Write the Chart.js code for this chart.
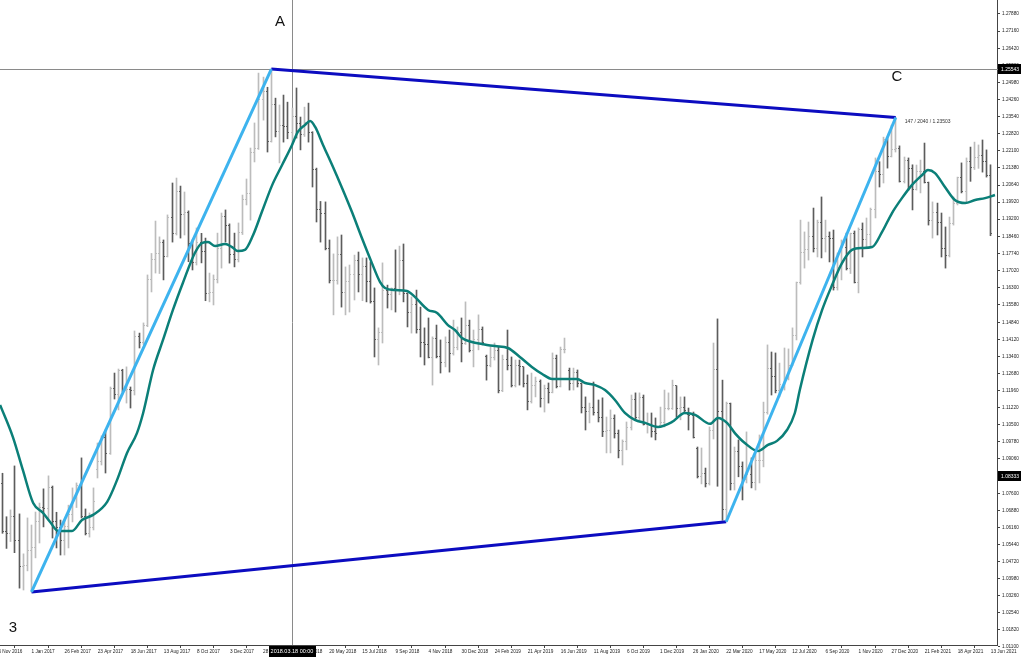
<!DOCTYPE html>
<html>
<head>
<meta charset="utf-8">
<script src="https://cdn.jsdelivr.net/npm/chart.js@4.4.1/dist/chart.umd.min.js"></script>
<style>
  html, body { margin: 0; padding: 0; background: #fff; }
  #wrap { width: 1022px; height: 658px; }
</style>
</head>
<body>
<div id="wrap"><canvas id="chart" width="1022" height="658"></canvas></div>
<script>
// Weekly bars, week 0 = week of 1 Jan 2017
const firstWeek = -7;

const opens = [
  1.0800,1.0600,1.0590,1.0660,1.0560,1.0450,1.0455,1.0520,1.0530,1.0640,
  1.0700,1.0695,1.0785,1.0640,1.0615,1.0560,1.0620,1.0670,1.0740,1.0795,
  1.0660,1.0590,1.0615,1.0860,1.0895,1.0995,1.0930,1.1205,1.1180,1.1280,
  1.1195,1.1200,1.1195,1.1425,1.1400,1.1470,1.1665,1.1750,1.1775,1.1820,
  1.1760,1.1925,1.1860,1.2035,1.1940,1.1950,1.1815,1.1735,1.1820,1.1785,
  1.1605,1.1610,1.1665,1.1795,1.1930,1.1895,1.1770,1.1750,1.1865,1.2005,
  1.2030,1.2200,1.2220,1.2426,1.2460,1.2250,1.2405,1.2290,1.2315,1.2310,
  1.2285,1.2355,1.2325,1.2280,1.2330,1.2285,1.2130,1.1960,1.1945,1.1795,
  1.1660,1.1660,1.1770,1.1610,1.1655,1.1685,1.1745,1.1685,1.1720,1.1655,
  1.1570,1.1410,1.1440,1.1620,1.1600,1.1625,1.1620,1.1745,1.1605,1.1525,
  1.1560,1.1455,1.1400,1.1390,1.1335,1.1415,1.1340,1.1315,1.1400,1.1350,
  1.1375,1.1440,1.1395,1.1470,1.1365,1.1410,1.1455,1.1340,1.1300,1.1335,
  1.1365,1.1195,1.1325,1.1300,1.1215,1.1300,1.1295,1.1225,1.1150,1.1215,
  1.1235,1.1160,1.1205,1.1185,1.1330,1.1210,1.1370,1.1280,1.1225,1.1270,
  1.1225,1.1125,1.1105,1.1125,1.1100,1.1080,1.1020,1.1025,1.1075,1.1015,
  1.0940,1.0980,1.1040,1.1155,1.1080,1.1165,1.1050,1.1050,1.1020,1.1045,
  1.1060,1.1120,1.1120,1.1215,1.1120,1.1125,1.1095,1.1090,1.0950,1.0830,
  1.0845,1.0800,1.1025,1.1285,1.1105,1.0690,1.1140,1.0800,1.0935,1.0875,
  1.0820,1.0840,1.0805,1.0900,1.0900,1.1100,1.1290,1.1255,1.1195,1.1220,
  1.1245,1.1300,1.1428,1.1650,1.1778,1.1790,1.1845,1.1795,1.1905,1.1840,
  1.1845,1.1840,1.1630,1.1715,1.1800,1.1710,1.1860,1.1650,1.1875,1.1835,
  1.1855,1.1960,1.2120,1.2110,1.2255,1.2185,1.2215,1.2220,1.2080,1.2170,
  1.2135,1.2045,1.2120,1.2120,1.2075,1.1915,1.1950,1.1905,1.1795,1.1765,
  1.1900,1.1985,1.2095,1.2035,1.2165,1.2140,1.2180,1.2190,1.2165,1.2105
];
const highs = [
  1.0845,1.0661,1.0690,1.0876,1.0673,1.0504,1.0656,1.0626,1.0681,1.0719,
  1.0779,1.0834,1.0791,1.0680,1.0647,1.0647,1.0710,1.0783,1.0804,1.0910,
  1.0694,1.0677,1.0783,1.0973,1.1003,1.1028,1.1210,1.1269,1.1286,1.1285,
  1.1295,1.1210,1.1447,1.1438,1.1481,1.1684,1.1775,1.1912,1.1845,1.1832,
  1.1938,1.2073,1.2094,1.2060,1.2035,1.1955,1.1832,1.1883,1.1860,1.1840,
  1.1692,1.1684,1.1861,1.1946,1.1959,1.1900,1.1861,1.1904,1.2022,1.2090,
  1.2221,1.2327,1.2538,1.2521,1.2478,1.2555,1.2432,1.2403,1.2445,1.2415,
  1.2390,1.2475,1.2352,1.2394,1.2411,1.2290,1.2136,1.1995,1.1993,1.1832,
  1.1773,1.1845,1.1853,1.1718,1.1726,1.1768,1.1781,1.1756,1.1756,1.1739,
  1.1629,1.1460,1.1735,1.1641,1.1629,1.1790,1.1806,1.1815,1.1608,1.1591,
  1.1620,1.1548,1.1460,1.1502,1.1422,1.1472,1.1409,1.1422,1.1451,1.1493,
  1.1464,1.1502,1.1570,1.1493,1.1451,1.1515,1.1464,1.1345,1.1379,1.1396,
  1.1379,1.1345,1.1451,1.1337,1.1324,1.1324,1.1295,1.1261,1.1269,1.1252,
  1.1240,1.1218,1.1227,1.1354,1.1345,1.1379,1.1417,1.1290,1.1290,1.1282,
  1.1227,1.1168,1.1142,1.1231,1.1155,1.1164,1.1083,1.1113,1.1092,1.1028,
  1.0986,1.1062,1.1176,1.1185,1.1185,1.1176,1.1100,1.1100,1.1079,1.1125,
  1.1197,1.1185,1.1239,1.1215,1.1168,1.1168,1.1121,1.1104,1.0956,1.0952,
  1.0867,1.1041,1.1396,1.1498,1.1239,1.1146,1.1142,1.0956,1.0986,1.0893,
  1.1020,1.0910,1.0931,1.1007,1.1146,1.1388,1.1358,1.1354,1.1311,1.1375,
  1.1371,1.1460,1.1654,1.1916,1.1866,1.1908,1.1967,1.1916,1.2014,1.1916,
  1.1866,1.1874,1.1777,1.1832,1.1861,1.1861,1.1870,1.1883,1.1904,1.1925,
  1.1967,1.2179,1.2163,1.2267,1.2260,1.2318,1.2350,1.2230,1.2183,1.2179,
  1.2150,1.2149,1.2170,1.2242,1.2077,1.1993,1.1988,1.1946,1.1887,1.1929,
  1.2014,1.2098,1.2158,1.2179,1.2225,1.2246,1.2234,1.2255,1.2213,1.2150
];
const lows = [
  1.0591,1.0527,1.0556,1.0509,1.0359,1.0351,1.0432,1.0343,1.0487,1.0550,
  1.0618,1.0647,1.0571,1.0529,1.0499,1.0499,1.0529,1.0639,1.0700,1.0656,
  1.0584,1.0575,1.0605,1.0825,1.0880,1.0846,1.0925,1.1159,1.1113,1.1189,
  1.1142,1.1121,1.1176,1.1375,1.1390,1.1465,1.1612,1.1692,1.1690,1.1663,
  1.1760,1.1823,1.1853,1.1840,1.1853,1.1740,1.1705,1.1726,1.1735,1.1575,
  1.1570,1.1557,1.1650,1.1713,1.1823,1.1734,1.1718,1.1739,1.1855,1.1980,
  1.1916,1.2162,1.2215,1.2339,1.2204,1.2246,1.2268,1.2158,1.2246,1.2260,
  1.2233,1.2263,1.2213,1.2270,1.2246,1.2056,1.1908,1.1823,1.1790,1.1650,
  1.1515,1.1645,1.1548,1.1515,1.1527,1.1578,1.1612,1.1575,1.1570,1.1565,
  1.1337,1.1303,1.1396,1.1544,1.1536,1.1527,1.1600,1.1570,1.1464,1.1438,
  1.1438,1.1337,1.1303,1.1333,1.1218,1.1333,1.1269,1.1295,1.1273,1.1345,
  1.1367,1.1316,1.1390,1.1358,1.1295,1.1367,1.1388,1.1239,1.1295,1.1324,
  1.1185,1.1190,1.1282,1.1210,1.1210,1.1218,1.1210,1.1113,1.1142,1.1168,
  1.1125,1.1104,1.1142,1.1185,1.1206,1.1210,1.1354,1.1197,1.1197,1.1210,
  1.1100,1.1028,1.1058,1.1091,1.1062,1.1000,1.0931,1.0931,1.0994,1.0910,
  1.0880,1.0944,1.1028,1.1071,1.1071,1.1049,1.1015,1.0998,1.0986,1.1041,
  1.1041,1.1113,1.1115,1.1083,1.1071,1.1104,1.1028,1.0994,1.0825,1.0800,
  1.0787,1.0795,1.0990,1.0790,1.0646,1.0640,1.0774,1.0774,1.0830,1.0732,
  1.0804,1.0783,1.0774,1.0804,1.0872,1.1095,1.1176,1.1185,1.1168,1.1197,
  1.1240,1.1300,1.1409,1.1645,1.1713,1.1747,1.1781,1.1760,1.1756,1.1781,
  1.1739,1.1620,1.1620,1.1663,1.1705,1.1690,1.1650,1.1608,1.1760,1.1798,
  1.1802,1.1925,1.2056,1.2073,1.2136,1.2183,1.2204,1.2077,1.2073,1.2043,
  1.1959,1.2043,1.2031,1.2073,1.1895,1.1840,1.1853,1.1760,1.1713,1.1760,
  1.1895,1.1980,1.2031,1.1990,1.2080,1.2130,1.2135,1.2119,1.2098,1.1850
];
const closes = [
  1.0600,1.0590,1.0660,1.0560,1.0450,1.0455,1.0520,1.0530,1.0640,1.0700,
  1.0695,1.0785,1.0640,1.0615,1.0560,1.0620,1.0670,1.0740,1.0795,1.0660,
  1.0590,1.0615,1.0725,1.0895,1.0995,1.0930,1.1205,1.1180,1.1280,1.1195,
  1.1200,1.1195,1.1425,1.1400,1.1470,1.1665,1.1750,1.1775,1.1820,1.1760,
  1.1925,1.1860,1.2035,1.1940,1.1950,1.1815,1.1735,1.1820,1.1785,1.1605,
  1.1610,1.1665,1.1795,1.1930,1.1895,1.1770,1.1750,1.1865,1.2005,1.2030,
  1.2200,1.2220,1.2426,1.2460,1.2250,1.2405,1.2290,1.2315,1.2310,1.2285,
  1.2355,1.2325,1.2280,1.2330,1.2285,1.2130,1.1960,1.1945,1.1795,1.1660,
  1.1660,1.1770,1.1610,1.1655,1.1685,1.1745,1.1685,1.1720,1.1655,1.1570,
  1.1410,1.1440,1.1620,1.1600,1.1625,1.1620,1.1745,1.1605,1.1525,1.1560,
  1.1455,1.1400,1.1390,1.1335,1.1415,1.1340,1.1315,1.1400,1.1350,1.1375,
  1.1440,1.1395,1.1470,1.1365,1.1410,1.1455,1.1400,1.1300,1.1335,1.1365,
  1.1195,1.1325,1.1300,1.1215,1.1300,1.1295,1.1225,1.1150,1.1215,1.1235,
  1.1160,1.1205,1.1185,1.1330,1.1210,1.1370,1.1370,1.1225,1.1270,1.1225,
  1.1125,1.1105,1.1125,1.1100,1.1080,1.1020,1.1025,1.1075,1.1015,1.0940,
  1.0980,1.1040,1.1155,1.1080,1.1165,1.1050,1.1050,1.1020,1.1015,1.1060,
  1.1120,1.1120,1.1215,1.1120,1.1125,1.1110,1.1090,1.0995,1.0830,1.0845,
  1.0800,1.1025,1.1285,1.1105,1.0690,1.1140,1.0800,1.0935,1.0875,1.0820,
  1.0840,1.0805,1.0900,1.0900,1.1100,1.1290,1.1255,1.1195,1.1220,1.1245,
  1.1300,1.1428,1.1650,1.1778,1.1790,1.1845,1.1795,1.1905,1.1840,1.1845,
  1.1840,1.1630,1.1715,1.1800,1.1710,1.1860,1.1650,1.1875,1.1835,1.1855,
  1.1960,1.2120,1.2110,1.2255,1.2185,1.2215,1.2220,1.2080,1.2170,1.2135,
  1.2045,1.2120,1.2120,1.2075,1.1915,1.1950,1.1905,1.1795,1.1765,1.1900,
  1.1985,1.2095,1.2035,1.2165,1.2140,1.2180,1.2190,1.2165,1.2105,1.1860
];

// smoothed moving average (week, price)
const maWeeks = [
  -7.6,-4.5,-2.1,0.4,2.8,4.5,6.4,9.8,12.2,14.9,18.3,20.7,23.1,25.5,27.0,29.4,31.8,34.2,36.6,
  39.5,41.2,42.7,44.4,46.8,48.5,49.9,51.6,53.6,55.7,58.2,60.6,63.0,64.4,66.1,67.4,68.6,70.5,
  72.7,75.1,77.5,79.9,82.3,84.3,85.5,87.9,90.8,92.7,95.9,98.1,100.7,102.4,104.1,106.5,109.0,
  112.1,115.2,118.1,121.0,123.5,125.9,128.3,131.9,133.9,136.3,138.7,141.1,143.5,145.9,148.4,
  151.5,154.9,158.0,160.5,164.1,166.0,168.2,170.1,172.5,175.7,178.1,180.3,182.7,184.6,185.8,
  188.9,191.2,193.6,196.0,198.4,200.8,203.3,205.7,208.1,210.5,212.9,215.4,216.8,218.5,220.9,
  223.3,225.8,228.2,230.6,233.0
];
const maValues = [
  1.1134,1.0998,1.0859,1.0719,1.0677,1.0639,1.0601,1.0601,1.0647,1.0669,1.0724,1.0817,1.0931,1.1015,1.1100,1.1282,1.1409,1.1536,1.1650,
  1.1777,1.1819,1.1823,1.1806,1.1815,1.1802,1.1785,1.1790,1.1853,1.1950,1.2064,1.2149,1.2234,1.2289,1.2318,1.2335,1.2310,1.2234,
  1.2149,1.2052,1.1950,1.1840,1.1735,1.1654,1.1629,1.1620,1.1616,1.1591,1.1536,1.1523,1.1472,1.1451,1.1417,1.1400,1.1392,
  1.1383,1.1375,1.1337,1.1295,1.1265,1.1244,1.1244,1.1244,1.1227,1.1218,1.1197,1.1155,1.1100,1.1071,1.1058,
  1.1041,1.1062,1.1100,1.1092,1.1054,1.1079,1.1058,1.1015,1.0973,1.0939,1.0965,1.0982,1.1028,1.1100,1.1197,
  1.1409,1.1536,1.1641,1.1734,1.1790,1.1798,1.1802,1.1866,1.1946,1.2009,1.2064,1.2107,1.2128,1.2115,1.2056,
  1.2001,1.1988,1.2001,1.2009,1.2022
];

// trend line pivots: Jan 2017 low, Feb 2018 high, Mar 2020 low, Jan 2021 high
const pivotWeeks = [0, 58, 168, 209];
const pivotPrices = [1.0343, 1.2555, 1.0640, 1.2350];

const xTickWeeks = [-8,0,8,16,24,32,40,48,56,64,72,80,88,96,104,112,120,128,136,144,152,160,168,176,184,192,200,208,216,224,232];
const xTickLabels = [
  '6 Nov 2016','1 Jan 2017','26 Feb 2017','23 Apr 2017','18 Jun 2017','13 Aug 2017','8 Oct 2017',
  '3 Dec 2017','28 Jan 2018','25 Mar 2018','20 May 2018','15 Jul 2018','9 Sep 2018','4 Nov 2018',
  '30 Dec 2018','24 Feb 2019','21 Apr 2019','16 Jun 2019','11 Aug 2019','6 Oct 2019','1 Dec 2019',
  '26 Jan 2020','22 Mar 2020','17 May 2020','12 Jul 2020','6 Sep 2020','1 Nov 2020','27 Dec 2020',
  '21 Feb 2021','18 Apr 2021','13 Jun 2021'
];
const yTickValues = [
  1.27880,1.27160,1.26420,1.25700,1.24980,1.24260,1.23540,1.22820,1.22100,1.21380,
  1.20640,1.19920,1.19200,1.18460,1.17740,1.17020,1.16300,1.15580,1.14840,1.14120,
  1.13400,1.12680,1.11960,1.11220,1.10500,1.09780,1.09060,1.08340,1.07600,1.06880,
  1.06160,1.05440,1.04720,1.03980,1.03260,1.02540,1.01820,1.01100
];

const crossWeek = 63;
const crossPrice = 1.25543;
const crossTimeText = '2018.03.18 00:00';
const bidPrice = 1.08333;
const letters = [
  { text: 'A', week: 60.1, price: 1.2754 },
  { text: 'C', week: 209.3, price: 1.2521 },
  { text: '3', week: -4.5, price: 1.0191 }
];
const lineInfo = '147 / 2040 / 1.23503';

const UP = '#bcbcbc', DOWN = '#5c5c5c';
const smallFont = { family: 'Liberation Sans', size: 4.7 };

const weekOf = i => firstWeek + i;
const barColors = opens.map((o, i) => closes[i] >= o ? UP : DOWN);
const seg = (a, b) => [{ x: pivotWeeks[a], y: pivotPrices[a] }, { x: pivotWeeks[b], y: pivotPrices[b] }];

// snap the 1px bars and their open/close ticks to whole pixels so they stay crisp
const crisp = {
  id: 'crisp',
  beforeDatasetsDraw(chart) {
    [5, 6, 7].forEach(di => {
      chart.getDatasetMeta(di).data.forEach(el => {
        el.x = Math.floor(el.x) + 0.5;
        if (di !== 7) el.y = Math.floor(el.y) + 0.5;
      });
    });
  }
};

const overlay = {
  id: 'overlay',
  beforeDatasetsDraw(chart) {
    const { ctx, chartArea: a, scales: { x, y } } = chart;
    const cx = Math.floor(x.getPixelForValue(crossWeek)) + 0.5;
    const cy = Math.floor(y.getPixelForValue(crossPrice)) + 0.5;
    ctx.save();
    ctx.strokeStyle = '#8a8a8a';
    ctx.lineWidth = 1;
    ctx.beginPath();
    ctx.moveTo(cx, a.top); ctx.lineTo(cx, a.bottom);
    ctx.moveTo(a.left, cy); ctx.lineTo(a.right + 3, cy);
    ctx.stroke();
    ctx.restore();
  },
  afterDraw(chart) {
    const { ctx, chartArea: a, scales: { x, y } } = chart;
    ctx.save();
    ctx.fillStyle = '#111';
    ctx.font = '15px "Liberation Sans", Arial, sans-serif';
    ctx.textAlign = 'center';
    ctx.textBaseline = 'middle';
    letters.forEach(l => ctx.fillText(l.text, x.getPixelForValue(l.week), y.getPixelForValue(l.price)));

    ctx.font = '5px "Liberation Sans", Arial, sans-serif';
    ctx.textAlign = 'left';
    ctx.fillStyle = '#333';
    ctx.fillText(lineInfo, x.getPixelForValue(pivotWeeks[3]) + 9, y.getPixelForValue(pivotPrices[3]) + 4);

    // crosshair time box
    const cx = x.getPixelForValue(crossWeek);
    ctx.font = '5.5px "Liberation Sans", Arial, sans-serif';
    const tw = ctx.measureText(crossTimeText).width + 4;
    ctx.fillStyle = '#000';
    ctx.fillRect(Math.round(cx - tw / 2), a.bottom + 1, Math.round(tw), 11);
    ctx.fillStyle = '#fff';
    ctx.textAlign = 'center';
    ctx.fillText(crossTimeText, cx, a.bottom + 6.5);

    // price boxes on the right axis
    ctx.font = '5px "Liberation Sans", Arial, sans-serif';
    [crossPrice, bidPrice].forEach(p => {
      const py = y.getPixelForValue(p);
      ctx.fillStyle = '#000';
      ctx.fillRect(a.right + 1, Math.round(py - 5), 23, 10);
      ctx.fillStyle = '#fff';
      ctx.textAlign = 'left';
      ctx.fillText(p.toFixed(5), a.right + 4, py + 0.5);
    });
    ctx.restore();
  }
};

new Chart(document.getElementById('chart'), {
  type: 'bar',
  data: {
    datasets: [
      { type: 'line', data: seg(0, 1), borderColor: '#3db3ee', borderWidth: 3, pointRadius: 0, order: 1 },
      { type: 'line', data: seg(2, 3), borderColor: '#3db3ee', borderWidth: 3, pointRadius: 0, order: 1 },
      { type: 'line', data: seg(1, 3), borderColor: '#0c0cc0', borderWidth: 3, pointRadius: 0, order: 1 },
      { type: 'line', data: seg(0, 2), borderColor: '#0c0cc0', borderWidth: 3, pointRadius: 0, order: 1 },
      {
        type: 'line',
        data: maWeeks.map((w, i) => ({ x: w, y: maValues[i] })),
        borderColor: '#0b7f78', borderWidth: 2.5, pointRadius: 0,
        cubicInterpolationMode: 'monotone', order: 2
      },
      {
        type: 'scatter',
        data: opens.map((o, i) => ({ x: weekOf(i), y: o })),
        pointStyle: 'dash', rotation: 180, radius: 1.5,
        borderColor: barColors, borderWidth: 1, order: 3
      },
      {
        type: 'scatter',
        data: closes.map((c, i) => ({ x: weekOf(i), y: c })),
        pointStyle: 'dash', rotation: 0, radius: 1.5,
        borderColor: barColors, borderWidth: 1, order: 3
      },
      {
        type: 'bar',
        data: lows.map((l, i) => ({ x: weekOf(i), y: [l, highs[i]] })),
        backgroundColor: barColors, borderWidth: 0, barThickness: 1, order: 4
      }
    ]
  },
  options: {
    responsive: false,
    animation: false,
    events: [],
    layout: { padding: 0, autoPadding: false },
    plugins: { legend: { display: false }, tooltip: { enabled: false } },
    scales: {
      x: {
        type: 'linear', min: -7.62, max: 233.49, offset: false,
        grid: { drawOnChartArea: false, drawTicks: true, tickLength: 3, color: '#444' },
        border: { display: true, color: '#444' },
        ticks: {
          align: 'start', padding: 1, maxRotation: 0, autoSkip: false,
          font: smallFont, color: '#222',
          callback: (v, i) => xTickLabels[i]
        },
        afterBuildTicks: s => { s.ticks = xTickWeeks.map(v => ({ value: v })); },
        afterFit: s => { s.height = 13; s.paddingLeft = 0; s.paddingRight = 0; }
      },
      y: {
        position: 'right', min: 1.01184, max: 1.28472,
        grid: { drawOnChartArea: false, drawTicks: true, tickLength: 3, color: '#444' },
        border: { display: true, color: '#444' },
        ticks: {
          padding: 2, autoSkip: false, font: smallFont, color: '#222',
          callback: v => v.toFixed(5)
        },
        afterBuildTicks: s => { s.ticks = yTickValues.map(v => ({ value: v })); },
        afterFit: s => { s.width = 25; s.paddingTop = 0; s.paddingBottom = 0; }
      }
    }
  },
  plugins: [crisp, overlay]
});
</script>
</body>
</html>
